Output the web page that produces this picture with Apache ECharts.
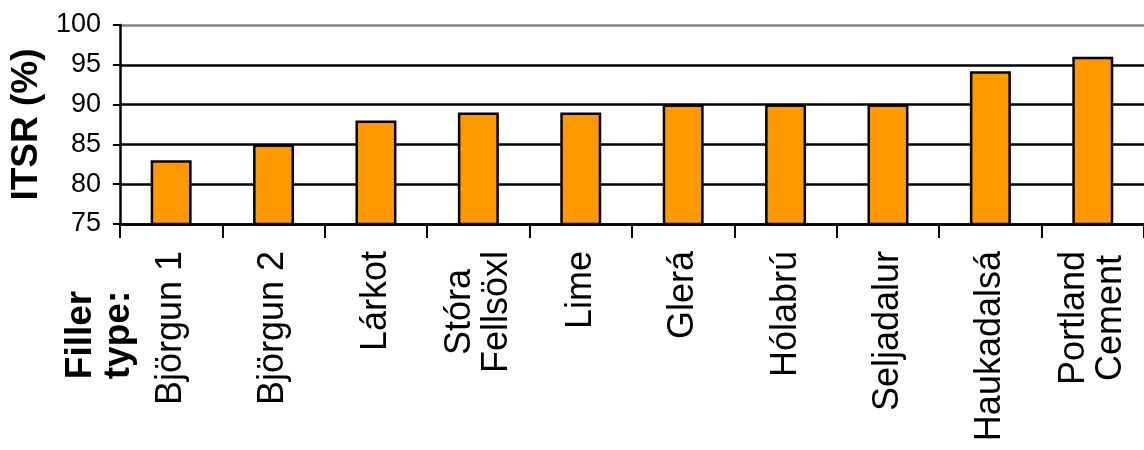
<!DOCTYPE html>
<html>
<head>
<meta charset="utf-8">
<script src="https://cdn.jsdelivr.net/npm/echarts@6/dist/echarts.min.js"></script>
<style>
html,body{margin:0;padding:0;background:#fff;}
#chart{width:1144px;height:450px;}
</style>
</head>
<body>
<div id="chart"></div>
<script>
const categories = ['Björgun 1', 'Björgun 2', 'Lárkot', 'Stóra\nFellsöxl', 'Lime', 'Glerá', 'Hólabrú', 'Seljadalur', 'Haukadalsá', 'Portland\nCement'];
const itsrValues = [83, 85, 88, 89, 89, 90, 90, 90, 94.2, 96];
const yTicks = { min: 75, max: 100, interval: 5 };
const yAxisTitle = 'ITSR (%)';
const xAxisTitle = 'Filler\ntype:';

const chart = echarts.init(document.getElementById('chart'), null, { renderer: 'canvas' });
const FONT = '"Liberation Sans", Arial, sans-serif';
chart.setOption({
  animation: false,
  backgroundColor: '#ffffff',
  grid: { left: 117, top: 25, height: 199, width: 1037, containLabel: false },
  xAxis: {
    type: 'category',
    data: categories,
    axisLine: { show: true, lineStyle: { color: '#000', width: 2.5 } },
    axisTick: { show: true, length: 14, lineStyle: { color: '#000', width: 2 } },
    axisLabel: {
      interval: 0,
      rotate: 90,
      margin: 27,
      color: '#000',
      fontFamily: FONT,
      fontSize: 36,
      lineHeight: 37,
      formatter: function (v) {
        return v.split('\n').map(function (s) { return '{a|' + s + '}'; }).join('\n');
      },
      rich: { a: { align: 'center', fontFamily: FONT, fontSize: 36, lineHeight: 37, color: '#000' } }
    },
    splitLine: { show: false }
  },
  yAxis: {
    type: 'value',
    min: yTicks.min,
    max: yTicks.max,
    interval: yTicks.interval,
    name: yAxisTitle,
    nameLocation: 'middle',
    nameGap: 70,
    nameTextStyle: { fontFamily: FONT, fontSize: 37, fontWeight: 'bold', color: '#000' },
    axisLine: { show: true, lineStyle: { color: '#000', width: 2.5 } },
    axisTick: { show: true, length: 7, lineStyle: { color: '#000', width: 2 } },
    axisLabel: { margin: 19, color: '#000', fontFamily: FONT, fontSize: 27 },
    splitLine: { show: true, lineStyle: { color: ['#000', '#000', '#000', '#000', '#000', '#808080'], width: 2.5 } }
  },
  series: [{
    type: 'bar',
    data: itsrValues,
    barWidth: '40%',
    itemStyle: { color: '#FF9900', borderColor: '#000', borderWidth: 2.5 }
  }],
  graphic: [{
    type: 'text',
    x: 100,
    y: 335,
    rotation: Math.PI / 2,
    style: {
      text: xAxisTitle,
      fontFamily: FONT,
      fontSize: 37,
      fontWeight: 'bold',
      lineHeight: 38,
      fill: '#000',
      align: 'center',
      verticalAlign: 'middle'
    }
  }]
});
</script>
</body>
</html>
